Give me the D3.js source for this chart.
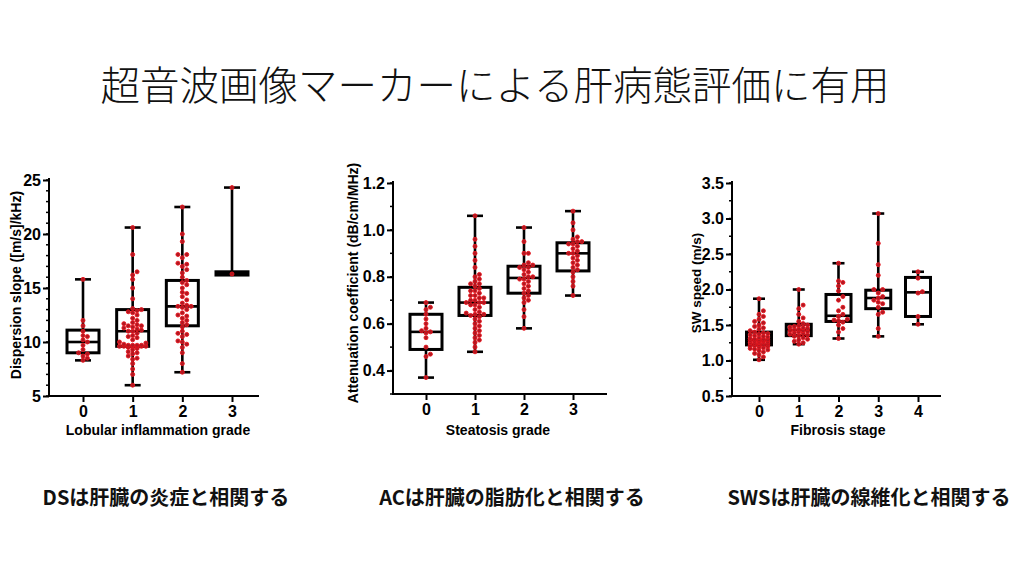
<!DOCTYPE html>
<html><head><meta charset="utf-8">
<script src="https://cdn.jsdelivr.net/npm/d3@7"></script>
<style>
html,body{margin:0;padding:0;background:#fff;}
svg{display:block;}
</style></head>
<body>
<svg id="c" width="1024" height="572"></svg>
<script>
// ---------- DATA ----------
const titleText = "超音波画像マーカーによる肝病態評価に有用";
const captions = ["DSは肝臓の炎症と相関する", "ACは肝臓の脂肪化と相関する", "SWSは肝臓の線維化と相関する"];

// Chart 1: Dispersion slope by lobular inflammation grade
const dsCategories = ["0", "1", "2", "3"];
const dsTicks = [5, 10, 15, 20, 25];
const dsMin = [8.3, 6.0, 7.2, 16.3];
const dsQ1 = [9.0, 9.6, 11.5, 16.2];
const dsMedian = [10.0, 11.0, 13.3, 16.3];
const dsQ3 = [11.1, 13.0, 15.7, 16.5];
const dsMax = [15.8, 20.6, 22.5, 24.3];
const dsPoints = [
  [8.3, 8.5, 8.7, 8.9, 9.0, 9.3, 9.7, 10.0, 10.2, 10.5, 10.6, 11.0, 11.5, 12.0, 15.8],
  [6.0, 7.0, 7.5, 8.0, 8.4, 8.5, 8.7, 8.9, 9.0, 9.1, 9.3, 9.4, 9.5, 9.6, 9.6, 9.6, 9.6, 9.6, 9.6, 9.7, 9.7, 9.7, 9.7, 9.8, 9.9, 10.0, 10.2, 10.4, 10.5, 10.6, 10.8, 11.0, 11.0, 11.1, 11.2, 11.3, 11.4, 11.5, 11.5, 11.6, 11.7, 11.8, 12.0, 12.2, 12.5, 12.7, 12.8, 12.9, 13.0, 13.1, 14.0, 15.0, 15.8, 16.2, 16.5, 18.1, 20.6],
  [7.2, 8.0, 9.0, 9.5, 9.8, 10.0, 10.1, 10.5, 10.7, 10.8, 11.0, 11.4, 11.6, 11.8, 12.0, 12.2, 12.4, 12.5, 12.7, 13.0, 13.2, 13.3, 13.3, 13.4, 13.6, 13.9, 14.2, 14.5, 14.6, 15.0, 15.3, 15.5, 15.7, 16.0, 16.4, 16.7, 17.0, 17.2, 17.3, 17.8, 18.1, 18.1, 19.3, 20.0, 22.5],
  [16.3, 24.3]
];

// Chart 2: Attenuation coefficient by steatosis grade
const acCategories = ["0", "1", "2", "3"];
const acTicks = [0.4, 0.6, 0.8, 1.0, 1.2];
const acMin = [0.37, 0.48, 0.58, 0.72];
const acQ1 = [0.49, 0.635, 0.73, 0.825];
const acMedian = [0.565, 0.69, 0.795, 0.90];
const acQ3 = [0.64, 0.755, 0.845, 0.945];
const acMax = [0.69, 1.06, 1.01, 1.08];
const acPoints = [
  [0.37, 0.46, 0.47, 0.50, 0.54, 0.56, 0.565, 0.57, 0.58, 0.60, 0.62, 0.64, 0.66, 0.67, 0.69],
  [0.48, 0.50, 0.52, 0.53, 0.54, 0.55, 0.56, 0.57, 0.58, 0.59, 0.60, 0.61, 0.62, 0.63, 0.635, 0.64, 0.64, 0.645, 0.65, 0.66, 0.67, 0.68, 0.68, 0.69, 0.69, 0.69, 0.70, 0.70, 0.71, 0.71, 0.72, 0.72, 0.73, 0.74, 0.74, 0.75, 0.76, 0.77, 0.77, 0.78, 0.79, 0.80, 0.81, 0.84, 0.87, 0.90, 0.93, 0.96, 1.06],
  [0.58, 0.63, 0.66, 0.69, 0.70, 0.71, 0.72, 0.73, 0.74, 0.75, 0.76, 0.77, 0.78, 0.79, 0.79, 0.80, 0.80, 0.81, 0.82, 0.83, 0.84, 0.84, 0.85, 0.85, 0.86, 0.90, 0.90, 0.95, 1.01],
  [0.72, 0.76, 0.78, 0.80, 0.82, 0.83, 0.84, 0.85, 0.86, 0.87, 0.88, 0.89, 0.90, 0.90, 0.91, 0.92, 0.93, 0.94, 0.94, 0.95, 0.95, 0.96, 0.97, 1.00, 1.03, 1.08]
];

// Chart 3: SW speed by fibrosis stage
const swCategories = ["0", "1", "2", "3", "4"];
const swTicks = [0.5, 1.0, 1.5, 2.0, 2.5, 3.0, 3.5];
const swMin = [1.01, 1.23, 1.31, 1.34, 1.51];
const swQ1 = [1.22, 1.35, 1.55, 1.73, 1.62];
const swMedian = [1.29, 1.43, 1.63, 1.88, 1.96];
const swQ3 = [1.40, 1.51, 1.93, 1.99, 2.17];
const swMax = [1.87, 2.00, 2.37, 3.07, 2.25];
const swPoints = [
  [1.01, 1.05, 1.08, 1.10, 1.12, 1.14, 1.15, 1.16, 1.17, 1.18, 1.19, 1.20, 1.21, 1.21, 1.22, 1.22, 1.23, 1.24, 1.25, 1.25, 1.26, 1.26, 1.27, 1.27, 1.28, 1.28, 1.29, 1.29, 1.30, 1.30, 1.31, 1.32, 1.33, 1.34, 1.35, 1.36, 1.37, 1.38, 1.39, 1.40, 1.42, 1.44, 1.46, 1.48, 1.50, 1.53, 1.55, 1.58, 1.62, 1.65, 1.70, 1.87],
  [1.23, 1.25, 1.27, 1.29, 1.30, 1.32, 1.34, 1.35, 1.36, 1.37, 1.38, 1.39, 1.40, 1.41, 1.42, 1.42, 1.43, 1.44, 1.45, 1.46, 1.47, 1.48, 1.49, 1.50, 1.52, 1.55, 1.60, 1.65, 1.73, 1.78, 2.00],
  [1.31, 1.40, 1.45, 1.50, 1.54, 1.56, 1.57, 1.58, 1.62, 1.65, 1.70, 1.75, 1.85, 1.90, 1.98, 2.05, 2.10, 2.12, 2.37],
  [1.34, 1.45, 1.65, 1.68, 1.75, 1.80, 1.82, 1.85, 1.88, 1.90, 1.95, 2.00, 2.00, 2.20, 2.35, 2.65, 3.07],
  [1.51, 1.62, 1.95, 1.97, 2.16, 2.25]
];

// ---------- DRAWING ----------
const svg = d3.select("#c");
const CJK = "'Noto Sans CJK JP','Noto Sans CJK SC',sans-serif";
const LAT = "'Liberation Sans',Arial,Helvetica,sans-serif";

svg.append("text").attr("x", 495).attr("y", 100).attr("text-anchor", "middle")
  .attr("font-family", CJK).attr("font-weight", 300).attr("font-size", 39.5)
  .attr("fill", "#111").text(titleText);

const capX = [166, 512, 869];
captions.forEach((t, i) => {
  svg.append("text").attr("x", capX[i]).attr("y", 505).attr("text-anchor", "middle")
    .attr("font-family", CJK).attr("font-weight", 700).attr("font-size", 20)
    .attr("fill", "#111").text(t);
});

function drawChart(cfg) {
  const g = svg.append("g");
  const y = d3.scaleLinear().domain(cfg.yDomain).range([cfg.yBottom, cfg.yTop]);
  const x = d3.scalePoint().domain(cfg.cats).range([cfg.xFirst, cfg.xLast]);

  const minors = d3.range(cfg.yDomain[0], cfg.yDomain[1] + 1e-9, cfg.minorStep);
  g.selectAll(".minor").data(minors).join("line")
    .attr("x1", cfg.axisX - 3).attr("x2", cfg.axisX)
    .attr("y1", d => y(d)).attr("y2", d => y(d))
    .attr("stroke", "#000").attr("stroke-width", 1.5);

  const ya = g.append("g").attr("transform", `translate(${cfg.axisX},0)`)
    .call(d3.axisLeft(y).tickValues(cfg.ticks).tickFormat(cfg.fmt).tickSize(6).tickSizeOuter(0).tickPadding(2));
  ya.select(".domain").remove();
  ya.selectAll(".tick line").attr("stroke-width", 2);
  ya.selectAll("text").attr("font-family", LAT).attr("font-weight", 700).attr("font-size", 16).attr("fill", "#000");
  g.append("line").attr("x1", cfg.axisX).attr("x2", cfg.axisX)
    .attr("y1", cfg.yTop - 2).attr("y2", cfg.yBottom + 1)
    .attr("stroke", "#000").attr("stroke-width", 2);

  const xa = g.append("g").attr("transform", `translate(0,${cfg.yBottom})`)
    .call(d3.axisBottom(x).tickSize(6).tickPadding(4));
  xa.select(".domain").remove();
  xa.selectAll(".tick line").attr("stroke-width", 2);
  xa.selectAll("text").attr("font-family", LAT).attr("font-weight", 700).attr("font-size", 16).attr("fill", "#000");
  g.append("line").attr("x1", cfg.axisX - 1).attr("x2", cfg.axisEnd)
    .attr("y1", cfg.yBottom).attr("y2", cfg.yBottom)
    .attr("stroke", "#000").attr("stroke-width", 2);

  g.append("text").attr("x", cfg.xTitleX).attr("y", 435).attr("text-anchor", "middle")
    .attr("font-family", LAT).attr("font-weight", 700).attr("font-size", 14)
    .attr("fill", "#000").text(cfg.xTitle);
  g.append("text").attr("transform", `translate(${cfg.yTitleX},${cfg.yTitleY}) rotate(-90)`)
    .attr("text-anchor", "middle")
    .attr("font-family", LAT).attr("font-weight", 700).attr("font-size", cfg.yTitleSize)
    .attr("fill", "#000").text(cfg.yTitle);

  const bw = cfg.boxW, cw = cfg.capW;
  cfg.cats.forEach((c, i) => {
    const cx = x(c);
    const gb = g.append("g").attr("stroke", "#000").attr("fill", "none").attr("stroke-width", 2.6);
    gb.append("line").attr("x1", cx).attr("x2", cx).attr("y1", y(cfg.q3[i])).attr("y2", y(cfg.max[i]));
    gb.append("line").attr("x1", cx).attr("x2", cx).attr("y1", y(cfg.q1[i])).attr("y2", y(cfg.min[i]));
    gb.append("line").attr("x1", cx - cw / 2).attr("x2", cx + cw / 2).attr("y1", y(cfg.max[i])).attr("y2", y(cfg.max[i]));
    gb.append("line").attr("x1", cx - cw / 2).attr("x2", cx + cw / 2).attr("y1", y(cfg.min[i])).attr("y2", y(cfg.min[i]));
    gb.append("rect").attr("x", cx - bw / 2).attr("y", y(cfg.q3[i]))
      .attr("width", bw).attr("height", Math.max(0.1, y(cfg.q1[i]) - y(cfg.q3[i])))
      .attr("stroke-width", 3).attr("fill", "#fff");
    gb.append("line").attr("x1", cx - bw / 2).attr("x2", cx + bw / 2)
      .attr("y1", y(cfg.median[i])).attr("y2", y(cfg.median[i])).attr("stroke-width", 2.6);
  });

  const r = 2.0, d = 4.4;
  const maxOff = bw / 2 - 1;
  cfg.cats.forEach((c, i) => {
    const cx = x(c);
    const vals = cfg.points[i].slice().sort((a, b) => a - b);
    const placed = [];
    vals.forEach(v => {
      const py = y(v);
      let best = cx, bestScore = -1;
      for (let k = 0; k < 30; k++) {
        const off = k === 0 ? 0 : (k % 2 ? 1 : -1) * Math.ceil(k / 2) * d;
        if (Math.abs(off) > maxOff) break;
        const tx = cx + off;
        let minD = Infinity;
        placed.forEach(p => { minD = Math.min(minD, Math.hypot(p[0] - tx, p[1] - py)); });
        if (minD >= d * 0.95) { best = tx; bestScore = Infinity; break; }
        if (minD > bestScore) { bestScore = minD; best = tx; }
      }
      placed.push([best, py]);
    });
    g.append("g").selectAll("circle").data(placed).join("circle")
      .attr("cx", p => p[0]).attr("cy", p => p[1]).attr("r", r)
      .attr("fill", "#b01822").attr("stroke", "#e8141c").attr("stroke-width", 0.9);
  });
}

drawChart({
  cats: dsCategories, ticks: dsTicks, fmt: d3.format("d"), minorStep: 1,
  yDomain: [5, 25], yBottom: 396, yTop: 180, xFirst: 83, xLast: 232,
  axisX: 49, axisEnd: 259, boxW: 32, capW: 16,
  min: dsMin, q1: dsQ1, median: dsMedian, q3: dsQ3, max: dsMax, points: dsPoints,
  xTitle: "Lobular inflammation grade", xTitleX: 158,
  yTitle: "Dispersion slope ([m/s]/kHz)", yTitleX: 21, yTitleY: 285, yTitleSize: 14
});
drawChart({
  cats: acCategories, ticks: acTicks, fmt: d3.format(".1f"), minorStep: 0.1,
  yDomain: [0.3, 1.2], yBottom: 394, yTop: 183, xFirst: 426, xLast: 573,
  axisX: 393, axisEnd: 607, boxW: 32, capW: 16,
  min: acMin, q1: acQ1, median: acMedian, q3: acQ3, max: acMax, points: acPoints,
  xTitle: "Steatosis grade", xTitleX: 498,
  yTitle: "Attenuation coefficient (dB/cm/MHz)", yTitleX: 358, yTitleY: 283, yTitleSize: 14
});
drawChart({
  cats: swCategories, ticks: swTicks, fmt: d3.format(".1f"), minorStep: 0.25,
  yDomain: [0.5, 3.5], yBottom: 396, yTop: 183, xFirst: 759, xLast: 918,
  axisX: 732, axisEnd: 941, boxW: 25, capW: 12,
  min: swMin, q1: swQ1, median: swMedian, q3: swQ3, max: swMax, points: swPoints,
  xTitle: "Fibrosis stage", xTitleX: 838,
  yTitle: "SW speed (m/s)", yTitleX: 701, yTitleY: 283, yTitleSize: 13.5
});
</script>
</body></html>
